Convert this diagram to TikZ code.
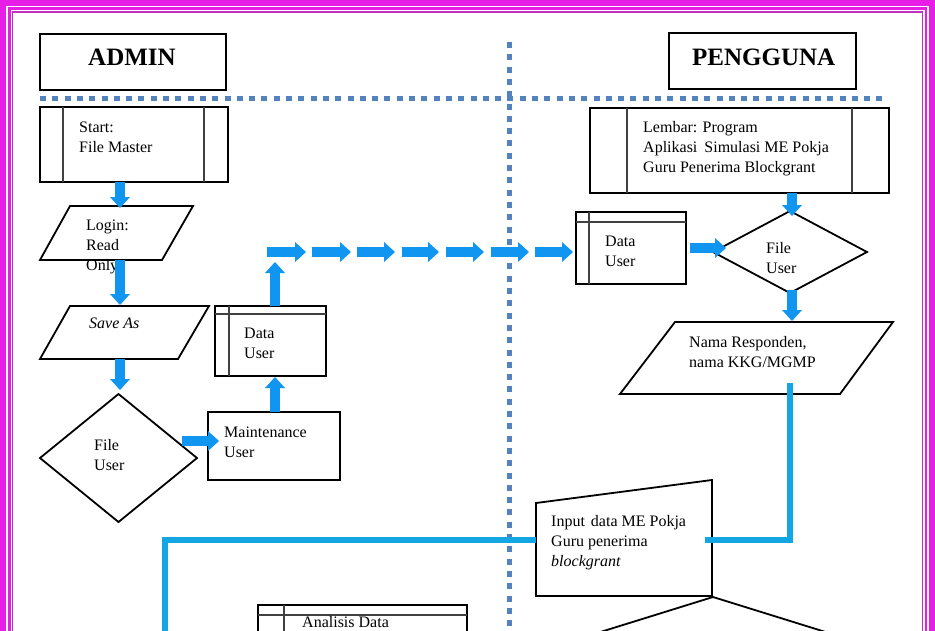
\documentclass[tikz,border=0pt]{standalone}
\usepackage{fontspec}
\setmainfont{Liberation Serif}
\usetikzlibrary{arrows.meta,calc}
\definecolor{frameM}{RGB}{230,30,230}
\definecolor{frameP}{RGB}{190,50,190}
\definecolor{dotB}{RGB}{84,130,190}
\definecolor{arrB}{RGB}{16,150,240}
\definecolor{lineC}{RGB}{20,166,226}
\begin{document}
\begin{tikzpicture}[x=1pt,y=-1pt,
 shp/.style={rectangle, inner sep=0pt, outer sep=0pt},
 boxd/.style={shp, draw=black, line width=1.8pt, fill=white},
 inl/.style={draw=black!75, line width=1.4pt},
 outl/.style={draw=black, line width=1.8pt, fill=white, line join=miter},
 txt/.style={inner sep=0pt, anchor=north west, align=left, font=\fontsize{16}{20}\selectfont},
 ttl/.style={inner sep=0pt, anchor=base west, font=\fontsize{25}{30}\selectfont\bfseries},
 blk/.style={draw=arrB, line width=10pt, -{Triangle[length=11pt,width=20pt,line width=0pt]}},
 cyl/.style={draw=lineC, line width=6pt},
 dotl/.style={draw=dotB, line width=5pt, dash pattern=on 6pt off 6.3pt}]
\useasboundingbox (0,0) rectangle (935,630);
\clip (0,0) rectangle (935,630);
\fill[white] (0,0) rectangle (935,630);
% frame
\draw[frameM, line width=6pt] (3,3) rectangle (931.5,700);
\draw[frameM, line width=2.2pt] (9.5,8.5) rectangle (926,700);
\draw[frameP, line width=1.4pt] (12.5,12) rectangle (922.5,700);
% swimlane separators
\coordinate (hL) at (40,98.5);
\coordinate (hR) at (885,98.5);
\coordinate (vT) at (509,42);
\coordinate (vB) at (509,640);
\draw[dotl] (hL) -- (hR);
\draw[dotl] (vT) -- (vB);
% column coordinates
\coordinate (cA) at (120,0);
\coordinate (cB) at (275,0);
\coordinate (cC) at (792,0);
\coordinate (cD) at (790,0);
% titles
\node[boxd, minimum width=186pt, minimum height=56pt] (admin) at (133,62) {};
\node[ttl] (adminT) at (88,65) {ADMIN};
\node[boxd, minimum width=187pt, minimum height=56pt] (peng) at (762.5,61) {};
\node[ttl] (pengT) at (692,65) {PENGGUNA};
% start
\node[boxd, minimum width=188pt, minimum height=75pt] (start) at (134,144.5) {};
\draw[inl] ($(start.north west)+(23,0)$) -- ($(start.south west)+(23,0)$);
\draw[inl] ($(start.north east)+(-24,0)$) -- ($(start.south east)+(-24,0)$);
% login
\node[shp, minimum width=153pt, minimum height=54pt] (login) at (116.5,233) {};
\draw[outl] ($(login.north west)+(30,0)$) -- (login.north east) -- ($(login.south east)+(-31,0)$) -- (login.south west) -- cycle;
% save as
\node[shp, minimum width=169pt, minimum height=53pt] (saveas) at (124.5,332.5) {};
\draw[outl] ($(saveas.north west)+(30,0)$) -- (saveas.north east) -- ($(saveas.south east)+(-31,0)$) -- (saveas.south west) -- cycle;
% file user 1
\node[shp, minimum width=157pt, minimum height=128pt] (fu1) at (118.5,458) {};
\draw[outl] (fu1.north) -- (fu1.east) -- (fu1.south) -- (fu1.west) -- cycle;
% maintenance
\node[boxd, minimum width=132pt, minimum height=68pt] (maint) at (274,446) {};
% data user 1
\node[boxd, minimum width=111pt, minimum height=70pt] (du1) at (270.5,341) {};
\draw[inl] ($(du1.north west)+(0,8)$) -- ($(du1.north east)+(0,8)$);
\draw[inl] ($(du1.north west)+(14,0)$) -- ($(du1.south west)+(14,0)$);
% data user 2
\node[boxd, minimum width=110pt, minimum height=72pt] (du2) at (631,248) {};
\draw[inl] ($(du2.north west)+(0,10)$) -- ($(du2.north east)+(0,10)$);
\draw[inl] ($(du2.north west)+(13,0)$) -- ($(du2.south west)+(13,0)$);
% lembar
\node[boxd, minimum width=299pt, minimum height=85pt] (lembar) at (739.5,150.5) {};
\draw[inl] ($(lembar.north west)+(37,0)$) -- ($(lembar.south west)+(37,0)$);
\draw[inl] ($(lembar.north east)+(-37,0)$) -- ($(lembar.south east)+(-37,0)$);
% file user 2
\node[shp, minimum width=154pt, minimum height=82pt] (fu2) at (790,252) {};
\draw[outl] (fu2.north) -- (fu2.east) -- (fu2.south) -- (fu2.west) -- cycle;
% nama
\node[shp, minimum width=273pt, minimum height=72pt] (nama) at (756.5,358) {};
\draw[outl] ($(nama.north west)+(55,0)$) -- (nama.north east) -- ($(nama.south east)+(-53,0)$) -- (nama.south west) -- cycle;
% input
\node[shp, minimum width=176pt, minimum height=116pt] (input) at (624,538) {};
\draw[outl] (input.south west) -- (input.south east) -- (input.north east) -- ($(input.north west)+(0,23)$) -- cycle;
% decision below
\node[shp, minimum width=386pt, minimum height=120pt] (dec) at (713,657) {};
\draw[outl] (dec.north) -- (dec.east) -- (dec.south) -- (dec.west) -- cycle;
% analisis
\node[boxd, minimum width=209pt, minimum height=70pt] (anal) at (362.5,640) {};
\draw[inl] ($(anal.north west)+(0,10)$) -- ($(anal.north east)+(0,10)$);
\draw[inl] ($(anal.north west)+(26,0)$) -- ($(anal.south west)+(26,0)$);
% texts
\node[txt] (startT) at (79,118) {\strut Start:\\File Master};
\node[txt] (loginT) at (86,216) {\strut Login:\\Read\\Only};
\node[txt] (saveT) at (89,314) {\strut\textit{Save As}};
\node[txt] (fu1T) at (94,436) {\strut File\\User};
\node[txt] (maintT) at (224,423) {\strut Maintenance\\User};
\node[txt] (du1T) at (244,324) {\strut Data\\User};
\node[txt] (du2T) at (605,232) {\strut Data\\User};
\node[txt] (lembarT) at (643,118) {\strut Lembar: Program\\Aplikasi\hspace{3pt} Simulasi ME Pokja\\Guru Penerima Blockgrant};
\node[txt] (fu2T) at (766,239) {\strut File\\User};
\node[txt] (namaT) at (689,333) {\strut Nama Responden,\\nama KKG/MGMP};
\node[txt] (inputT) at (551,512) {\strut Input\hspace{2pt} data ME Pokja\\Guru penerima\\\textit{blockgrant}};
\node[txt, anchor=base west] (analT) at (302,627.5) {Analisis Data};
% cyan connectors
\coordinate (cEnd) at (165,645);
\draw[cyl] ($(nama.south -| cD)+(0,-11)$) |- ($(input.east)+(-7,2)$);
\draw[cyl] ($(input.west)+(0,2)$) -| (cEnd);
% block arrows
\draw[blk] (start.south -| cA) -- ($(login.north -| cA)+(0,2)$);
\draw[blk] (login.south -| cA) -- ($(saveas.north -| cA)+(0,-1)$);
\draw[blk] (saveas.south -| cA) -- ($(fu1.north -| cA)+(0,-4)$);
\draw[blk] ($(fu1.center)+(63.5,-17)$) -- ($(maint.west)+(11,-5)$);
\draw[blk] (maint.north -| cB) -- ($(du1.south -| cB)+(0,1)$);
\coordinate (chainStart) at (275,262);
\draw[blk] (du1.north -| cB) -- (chainStart);
\foreach \a/\b in {267/306, 312/351, 357/395, 402/439, 446/484, 491/529, 535/573}
  \draw[blk] (\a,252) -- (\b,252);
\draw[blk] ($(du2.east)+(4,0)$) -- ($(fu2.west)+(13,-4)$);
\draw[blk] (lembar.south -| cC) -- ($(fu2.north -| cC)+(0,5)$);
\draw[blk] ($(fu2.south -| cC)+(0,-3)$) -- ($(nama.north -| cC)+(0,-1)$);
\end{tikzpicture}
\end{document}
